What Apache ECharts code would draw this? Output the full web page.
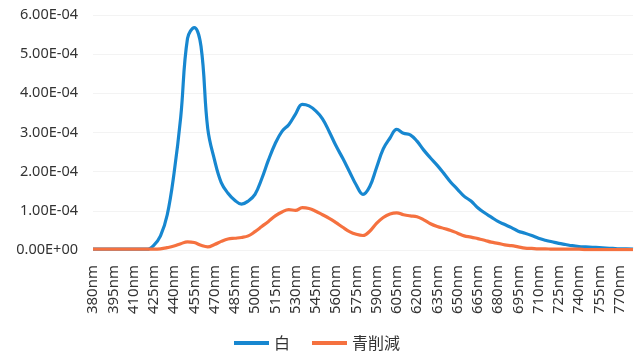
<!DOCTYPE html>
<html>
<head>
<meta charset="utf-8">
<script src="https://cdn.jsdelivr.net/npm/echarts@6/dist/echarts.min.js"></script>
<style>
  html, body { margin: 0; padding: 0; background: #fff; }
  #chart { width: 634px; height: 356px; }
</style>
</head>
<body>
<div id="chart"></div>
<script>
// Wavelengths 380–780 nm, sampled every 5 nm
const wavelengths = [];
for (let nm = 380; nm <= 780; nm += 5) wavelengths.push(nm + 'nm');

// Spectral values in units of 1E-04
const whiteVals = [
  0.02, 0.02, 0.02, 0.02, 0.02, 0.02, 0.02, 0.02, 0.02, 0.12,
  0.36, 0.90, 1.95, 3.40, 5.40, 5.68, 5.20, 3.10, 2.30, 1.72,
  1.45, 1.27, 1.17, 1.25, 1.42, 1.82, 2.30, 2.72, 3.03, 3.20,
  3.47, 3.72, 3.68, 3.55, 3.35, 3.02, 2.66, 2.34, 2.00, 1.66,
  1.42, 1.62, 2.10, 2.58, 2.86, 3.08, 2.98, 2.94, 2.78, 2.55,
  2.35, 2.16, 1.95, 1.73, 1.55, 1.37, 1.25, 1.08, 0.95, 0.84,
  0.73, 0.65, 0.57, 0.48, 0.43, 0.37, 0.30, 0.25, 0.21, 0.17,
  0.14, 0.11, 0.09, 0.08, 0.07, 0.06, 0.05, 0.04, 0.03, 0.03,
  0.02
];
const blueCutVals = [
  0.02, 0.02, 0.02, 0.02, 0.02, 0.02, 0.02, 0.02, 0.02, 0.02,
  0.03, 0.06, 0.10, 0.16, 0.21, 0.19, 0.12, 0.08, 0.14, 0.22,
  0.28, 0.30, 0.32, 0.36, 0.47, 0.60, 0.73, 0.87, 0.97, 1.03,
  1.01, 1.08, 1.06, 0.99, 0.90, 0.81, 0.70, 0.58, 0.47, 0.40,
  0.37, 0.48, 0.68, 0.83, 0.92, 0.95, 0.90, 0.87, 0.85, 0.77,
  0.67, 0.60, 0.55, 0.50, 0.43, 0.36, 0.33, 0.29, 0.25, 0.20,
  0.17, 0.13, 0.11, 0.08, 0.05, 0.04, 0.03, 0.03, 0.02, 0.02,
  0.02, 0.02, 0.02, 0.01, 0.01, 0.01, 0.01, 0.01, 0.01, 0.01,
  0.01
];
const seriesNames = ['白', '青削減'];
const UNIT = 1e-4;

function sci(v) {
  if (Math.abs(v) < 1e-12) return '0.00E+00';
  const e = Math.floor(Math.log10(Math.abs(v)) + 1e-9);
  const m = v / Math.pow(10, e);
  return m.toFixed(2) + 'E' + (e < 0 ? '-' : '+') + String(Math.abs(e)).padStart(2, '0');
}

const chart = echarts.init(document.getElementById('chart'), null, { renderer: 'canvas' });
const textColor = '#333333';
chart.setOption({
  animation: false,
  color: ['#1787d0', '#f5713f'],
  grid: { left: 93, right: 1, top: 15, bottom: 106, containLabel: false },
  legend: {
    data: seriesNames,
    left: 'center',
    top: 330,
    icon: 'rect',
    itemWidth: 35,
    itemHeight: 4,
    itemGap: 22,
    textStyle: { fontFamily: 'Noto Sans CJK JP', fontSize: 16, color: '#333' }
  },
  xAxis: {
    type: 'category',
    data: wavelengths,
    boundaryGap: false,
    axisLine: { show: false },
    axisTick: { show: false },
    axisLabel: {
      interval: 2,
      rotate: 90,
      margin: 15,
      fontFamily: 'Noto Sans',
      fontSize: 15,
      color: textColor
    },
    splitLine: { show: false }
  },
  yAxis: {
    type: 'value',
    min: 0,
    max: 6 * UNIT,
    interval: UNIT,
    axisLine: { show: false },
    axisTick: { show: false },
    axisLabel: {
      margin: 15,
      fontFamily: 'Noto Sans',
      fontSize: 14.5,
      color: textColor,
      formatter: sci
    },
    splitLine: { lineStyle: { color: '#f3f3f3', width: 1 } }
  },
  series: [
    {
      name: seriesNames[0],
      type: 'line',
      data: whiteVals.map(v => v * UNIT),
      showSymbol: false,
      smooth: 0.4,
      lineStyle: { width: 3.2 }
    },
    {
      name: seriesNames[1],
      type: 'line',
      data: blueCutVals.map(v => v * UNIT),
      showSymbol: false,
      smooth: 0.4,
      lineStyle: { width: 3.2 }
    }
  ]
});
</script>
</body>
</html>
